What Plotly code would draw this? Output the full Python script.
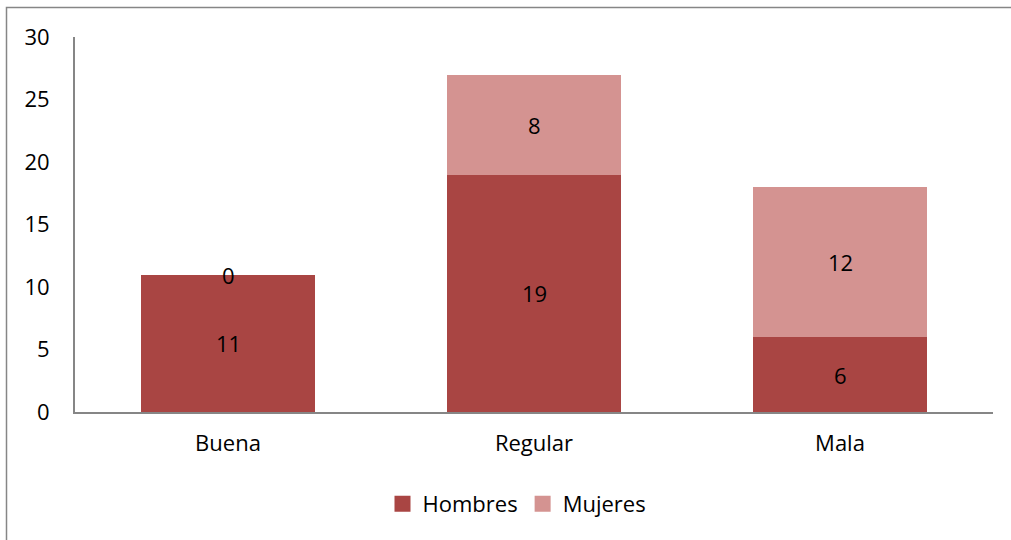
import plotly.graph_objects as go

categories = ["Buena", "Regular", "Mala"]
hombres = [11, 19, 6]
mujeres = [0, 8, 12]
y_ticks = [0, 5, 10, 15, 20, 25, 30]

W, H = 1011, 540
L, R, T, B = 75, 993, 37, 412
FONT = "Open Sans, Liberation Sans, sans-serif"
FS = 22
C_H = "#A94543"
C_M = "#D49391"

fig = go.Figure()
fig.add_trace(go.Bar(x=categories, y=hombres, name="Hombres", showlegend=False,
                     marker=dict(color=C_H, line=dict(width=0))))
fig.add_trace(go.Bar(x=categories, y=mujeres, name="Mujeres", showlegend=False,
                     marker=dict(color=C_M, line=dict(width=0))))
# legend entries with square swatches
for name, col in [("Hombres", C_H), ("Mujeres", C_M)]:
    fig.add_trace(go.Scatter(x=[None], y=[None], mode="markers", name=name,
                             marker=dict(symbol="square", size=16, color=col)))

# data labels centred in each segment
for i, c in enumerate(categories):
    fig.add_annotation(x=c, y=hombres[i] / 2, text=str(hombres[i]),
                       showarrow=False, font=dict(size=FS, color="#000", family=FONT))
    fig.add_annotation(x=c, y=hombres[i] + mujeres[i] / 2, text=str(mujeres[i]),
                       showarrow=False, font=dict(size=FS, color="#000", family=FONT))

pw, ph = R - L, B - T
def px(x):
    return (x - L) / pw
def py(y):
    return (B - y) / ph

fig.add_shape(type="rect", xref="paper", yref="paper",
              x0=px(6.5), x1=px(1020), y0=py(7.5), y1=py(550),
              line=dict(color="#868686", width=1.5), fillcolor="rgba(0,0,0,0)",
              layer="below")

fig.update_layout(
    width=W, height=H,
    margin=dict(l=L, r=W - R, t=T, b=H - B, pad=0),
    barmode="stack", bargap=0.43,
    plot_bgcolor="white", paper_bgcolor="white",
    font=dict(family=FONT, size=FS, color="#000"),
    showlegend=True,
    legend=dict(orientation="h", x=px(517), xanchor="center", y=py(504), yanchor="middle",
                font=dict(size=FS, family=FONT), traceorder="normal"),
    xaxis=dict(showline=True, linecolor="#868686", linewidth=2, ticks="",
               showgrid=False, tickfont=dict(size=FS, family=FONT), ticklabelstandoff=11),
    yaxis=dict(range=[0, 30], tickvals=y_ticks, showline=True, linecolor="#868686",
               linewidth=2, ticks="", showgrid=False, zeroline=False,
               tickfont=dict(size=FS, family=FONT), ticklabelstandoff=19),
)

fig.write_html("out.html")
